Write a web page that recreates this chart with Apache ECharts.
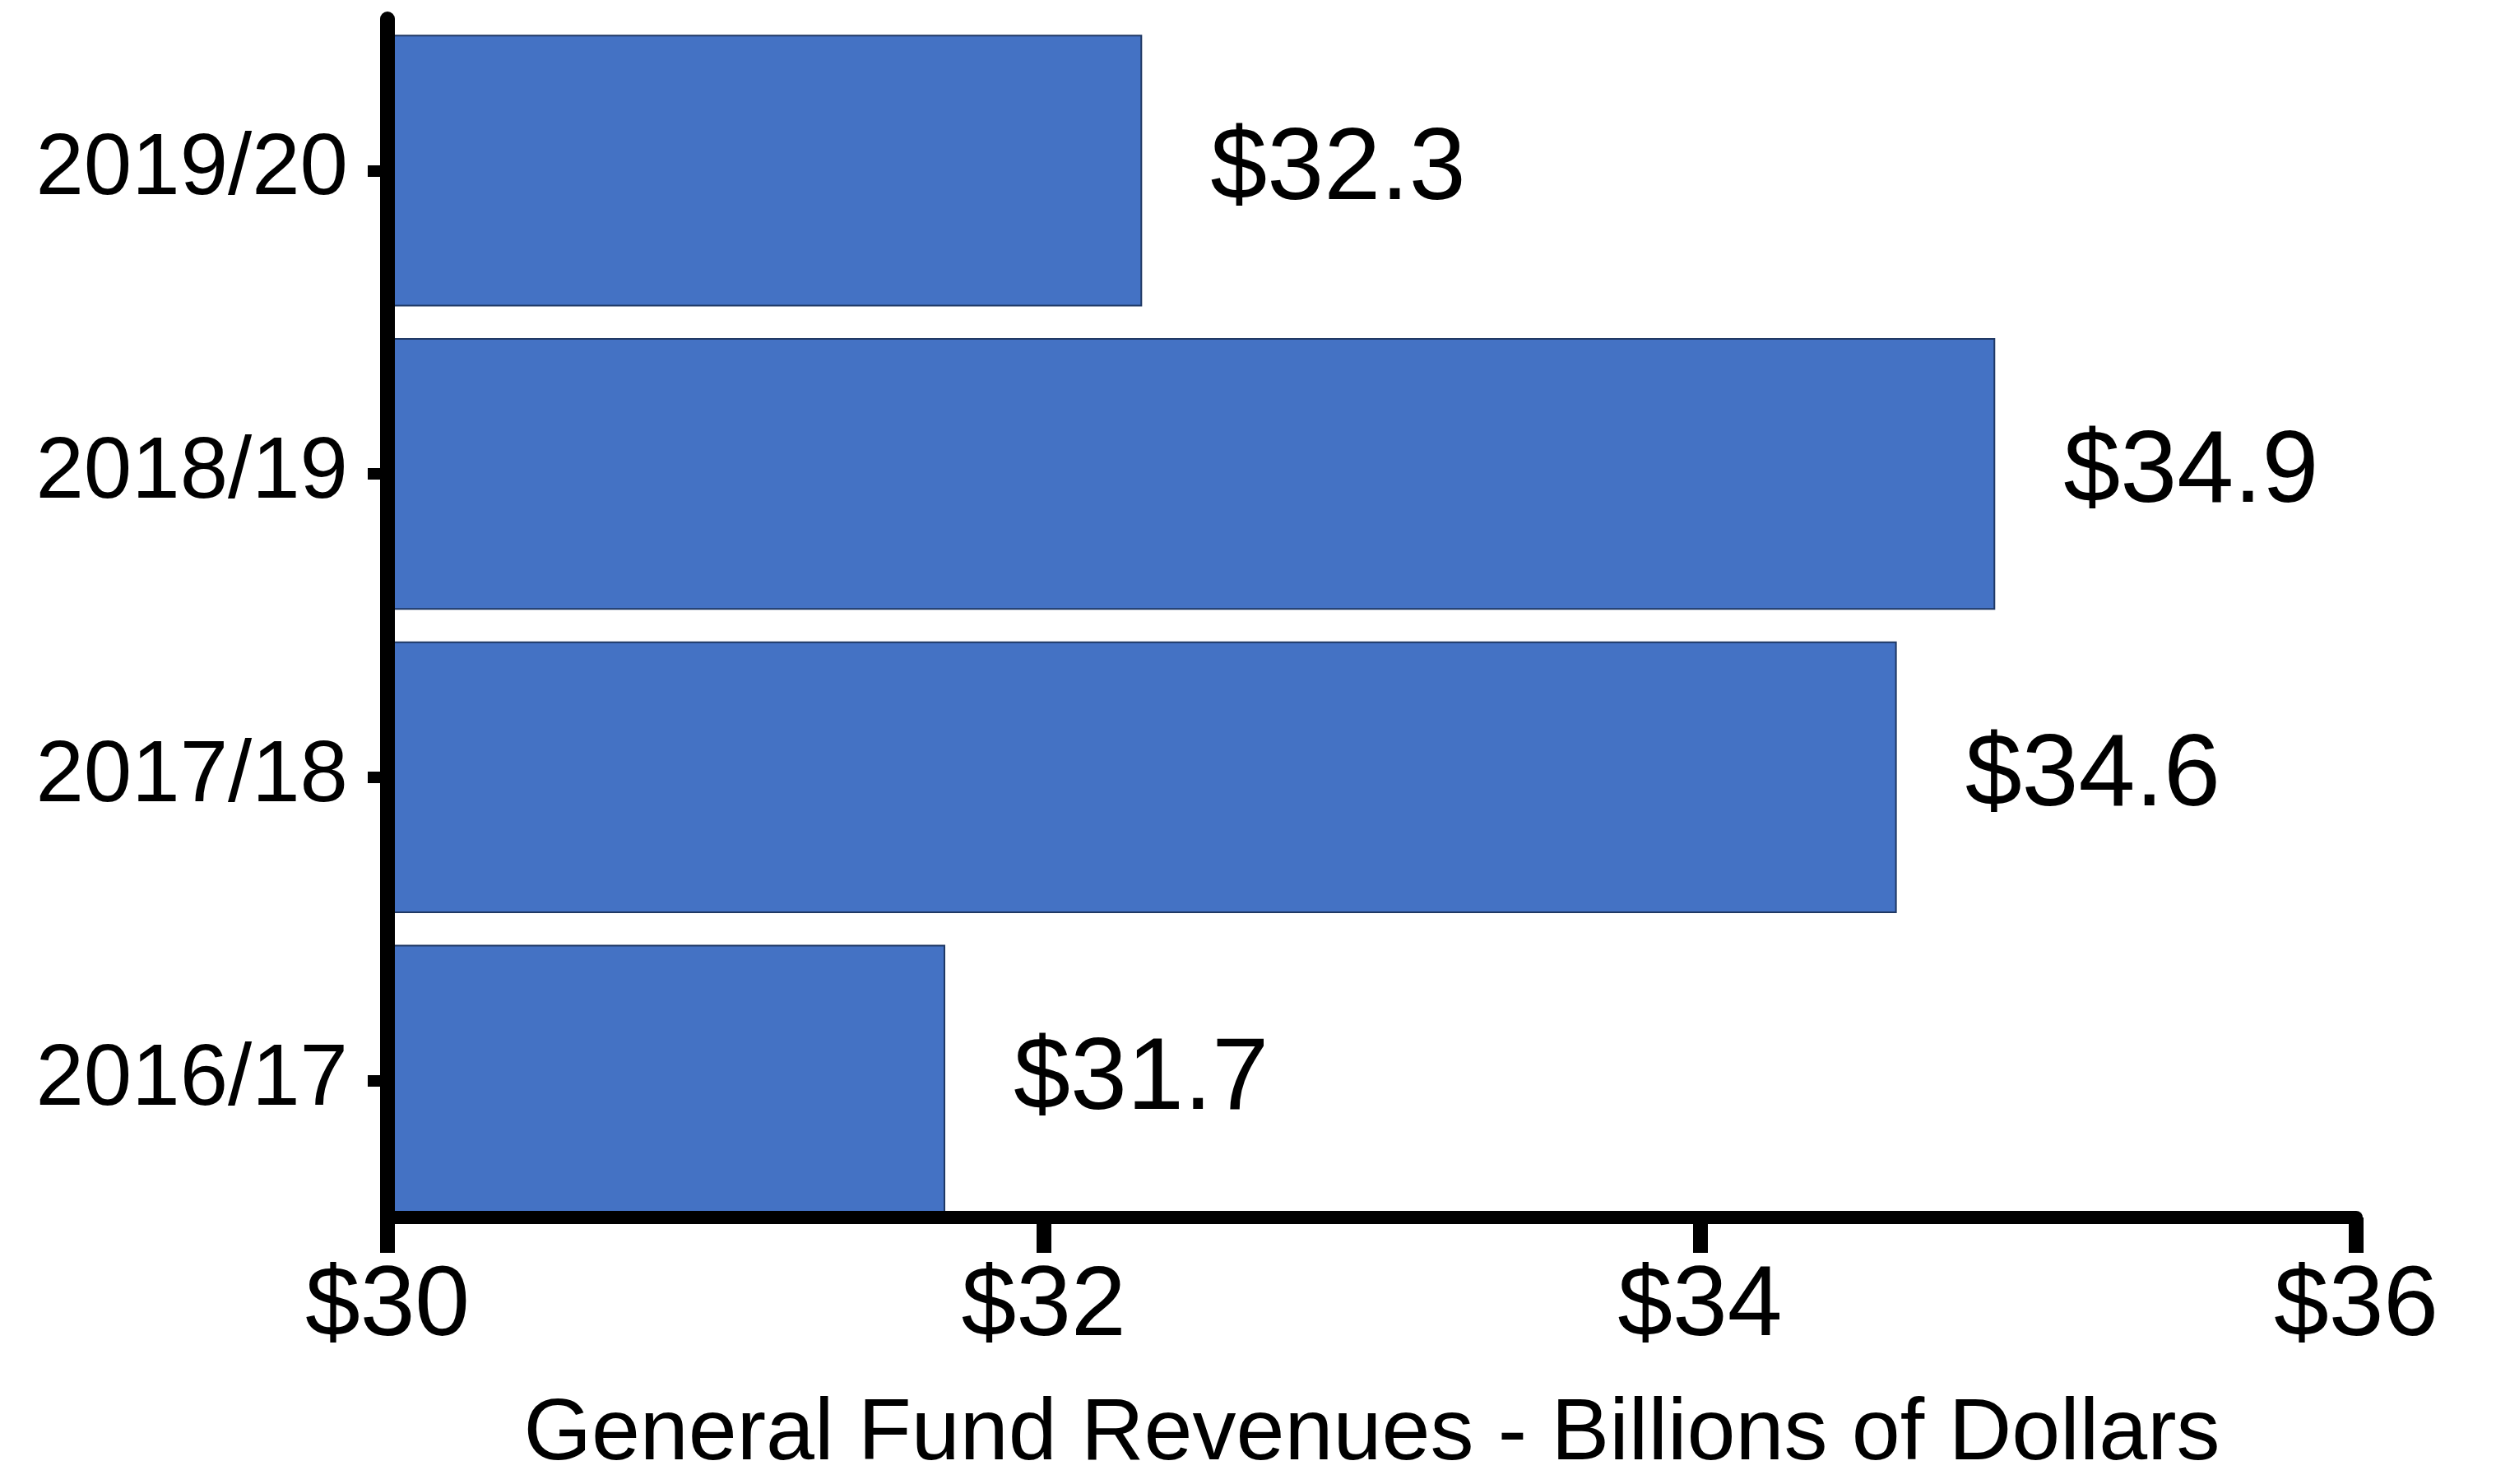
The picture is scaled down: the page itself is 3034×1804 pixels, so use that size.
<!DOCTYPE html>
<html>
<head>
<meta charset="utf-8">
<script src="https://cdn.jsdelivr.net/npm/echarts@6/dist/echarts.min.js"></script>
<style>
html,body{margin:0;padding:0;background:#fff;}
#chart{width:3034px;height:1804px;}
</style>
</head>
<body>
<div id="chart"></div>
<script>
const categories = ['2016/17', '2017/18', '2018/19', '2019/20'];
const revenues = [31.7, 34.6, 34.9, 32.3];
const xTickValues = [30, 32, 34, 36];
const axisTitle = 'General Fund Revenues - Billions of Dollars';

const FONT = '"Liberation Sans", Arial, sans-serif';
const chart = echarts.init(document.getElementById('chart'), null, {renderer: 'canvas'});
chart.setOption({
  backgroundColor: '#ffffff',
  animation: false,
  grid: {left: 471, right: 170, top: 23, bottom: 306, containLabel: false},
  xAxis: {
    type: 'value',
    min: xTickValues[0],
    max: xTickValues[xTickValues.length - 1],
    interval: 2,
    offset: -18,
    z: 10,
    axisLine: {show: true, lineStyle: {color: '#000', width: 16}},
    axisTick: {show: true, length: 43, lineStyle: {color: '#000', width: 18}},
    splitLine: {show: false},
    axisLabel: {
      fontSize: 120, color: '#000', fontFamily: FONT, margin: 50,
      formatter: v => '$' + v
    },
    name: axisTitle,
    nameLocation: 'middle',
    nameGap: 212,
    nameTextStyle: {fontSize: 106, color: '#000', fontFamily: FONT}
  },
  yAxis: {
    type: 'category',
    data: categories,
    z: 10,
    axisLine: {show: true, lineStyle: {color: '#000', width: 18}},
    axisTick: {show: true, alignWithLabel: true, length: 24, lineStyle: {color: '#000', width: 14}},
    axisLabel: {fontSize: 105, color: '#000', fontFamily: FONT, margin: 48},
    splitLine: {show: false}
  },
  series: [{
    type: 'bar',
    data: revenues,
    barCategoryGap: '10.5%',
    itemStyle: {color: '#4472C4', borderColor: '#1f3864', borderWidth: 2},
    label: {
      show: true,
      position: 'right',
      distance: 83,
      fontSize: 124,
      color: '#000',
      fontFamily: FONT,
      formatter: p => '$' + p.value.toFixed(1)
    }
  }]
});
</script>
</body>
</html>
